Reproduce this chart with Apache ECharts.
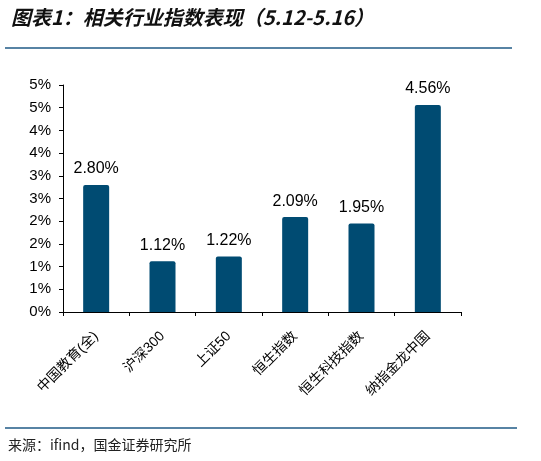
<!DOCTYPE html>
<html>
	<head>
		<meta charset="utf-8">
		<title>相关行业指数表现</title>
		<script src="https://cdn.jsdelivr.net/npm/echarts@6/dist/echarts.min.js"></script>
		<style>
			html, body { margin: 0; padding: 0; background: #fff; }
			#chart { width: 541px; height: 461px; }
		</style>
	</head>
	<body>
		<div id="chart"></div>
		<script>
			// 数据
			var categories = ['中国教育(全)', '沪深300', '上证50', '恒生指数', '恒生科技指数', '纳指金龙中国'];
			var values = [2.80, 1.12, 1.22, 2.09, 1.95, 4.56];

			var font = '"Liberation Sans", "Noto Sans CJK SC", sans-serif';
			var chart = echarts.init(document.getElementById('chart'));

			var option = {
				animation: false,
				backgroundColor: '#fff',
				title: {
					text: '图表1：相关行业指数表现（5.12-5.16）',
					left: 6,
					top: 2,
					textStyle: {
						fontFamily: '"Noto Sans CJK SC", sans-serif',
						fontSize: 20,
						fontStyle: 'italic',
						fontWeight: 'bold',
						color: '#111'
					}
				},
				graphic: [
					{
						type: 'line',
						shape: { x1: 5, y1: 48, x2: 512, y2: 48 },
						style: { stroke: '#1f5a86', lineWidth: 1.5 }
					},
					{
						type: 'line',
						shape: { x1: 5, y1: 428, x2: 517, y2: 428 },
						style: { stroke: '#1f5a86', lineWidth: 1.5 }
					},
					{
						type: 'text',
						left: 8,
						top: 438,
						style: {
							text: '来源：ifind，国金证券研究所',
							font: '14px "Noto Sans CJK SC", sans-serif',
							fill: '#222'
						}
					}
				],
				grid: {
					left: 63,
					right: 80,
					top: 85,
					bottom: 149
				},
				xAxis: {
					type: 'category',
					data: categories,
					axisLine: { lineStyle: { color: '#000', width: 1 } },
					axisTick: { show: true, length: 4, lineStyle: { color: '#000' } },
					axisLabel: {
						rotate: 45,
						interval: 0,
						margin: 22,
						color: '#000',
						fontSize: 14,
						fontFamily: font
					}
				},
				yAxis: {
					type: 'value',
					min: 0,
					max: 5,
					interval: 0.5,
					splitLine: { show: false },
					axisLine: { show: true, lineStyle: { color: '#000', width: 1 } },
					axisTick: { show: true, length: 4, lineStyle: { color: '#000' } },
					axisLabel: {
						color: '#000',
						fontSize: 15,
						fontFamily: font,
						margin: 12,
						formatter: function (v) {
							return Math.round(v) + '%';
						}
					}
				},
				series: [{
					type: 'bar',
					data: values,
					barWidth: 26,
					itemStyle: {
						color: '#004b72',
						borderRadius: [2, 2, 0, 0]
					},
					label: {
						show: true,
						position: 'top',
						distance: 8,
						color: '#000',
						fontSize: 16,
						fontFamily: font,
						formatter: function (p) {
							return p.value.toFixed(2) + '%';
						}
					}
				}]
			};

			chart.setOption(option);
		</script>
	</body>
</html>
